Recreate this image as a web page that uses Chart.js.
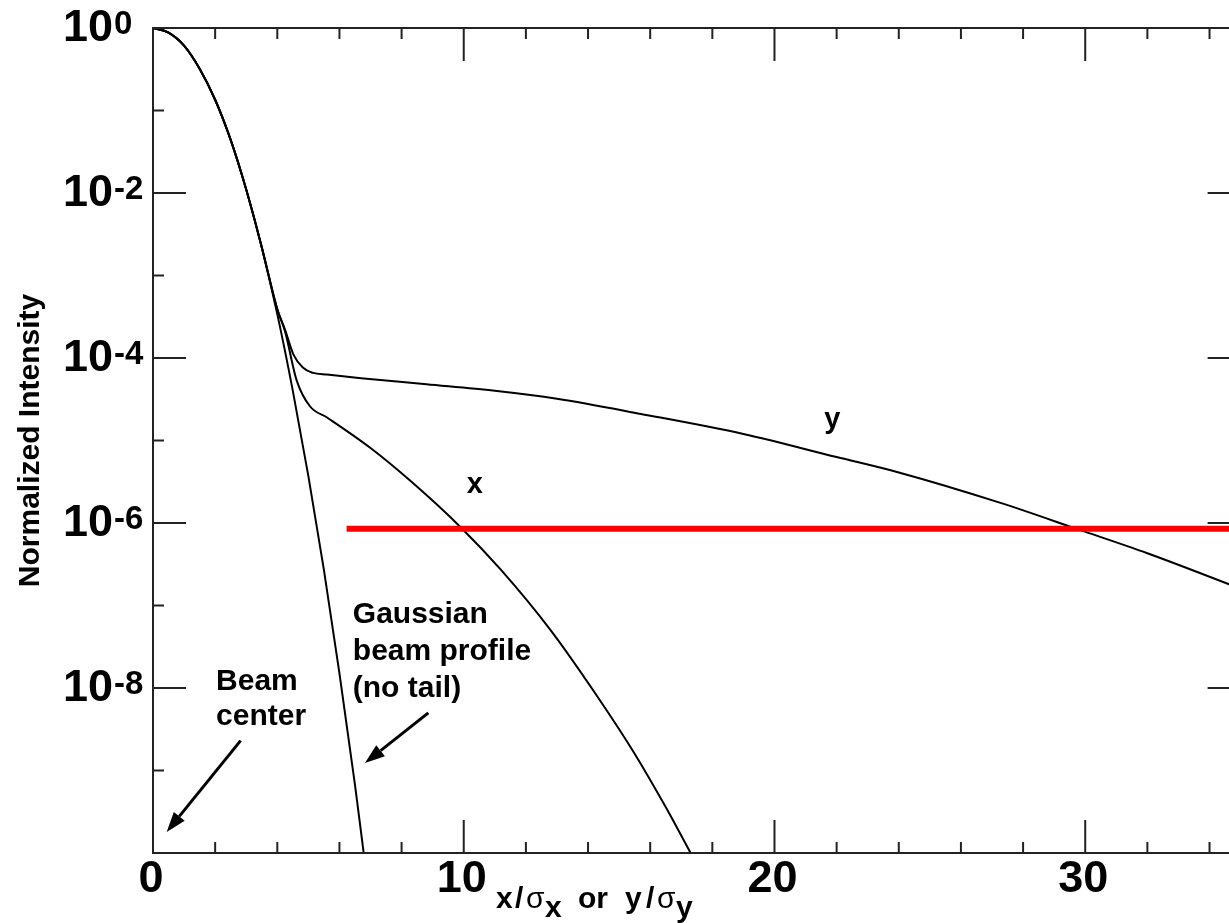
<!DOCTYPE html>
<html>
<head>
<meta charset="utf-8">
<script src="https://cdn.jsdelivr.net/npm/chart.js@4/dist/chart.umd.min.js"></script>
<style>
  html, body { margin: 0; padding: 0; background: #fff; overflow: hidden; }
  #wrap { width: 1229px; height: 923px; overflow: hidden; }
</style>
</head>
<body>
<div id="wrap"><canvas id="tailChart" width="1262" height="923"></canvas></div>
<script>
// data (x in sigma units, y = normalized intensity)
const gaussX = [0, 0.5, 1, 1.5, 2, 2.5, 3, 3.5, 4, 4.5, 5, 5.5, 6, 6.5, 6.78];
const gaussY = [1, 0.88, 0.61, 0.32, 0.135, 0.044, 0.011, 2.2e-3, 3.4e-4, 4.0e-5, 3.7e-6, 2.7e-7, 1.5e-8, 6.7e-10, 1e-10];

const xTailX = [0, 0.5, 1, 1.5, 2, 2.5, 3, 3.5, 4, 4.25, 4.62, 5.05, 5.6, 7, 8.3, 9.9, 11.2, 12.8, 14.3, 15.5, 16.5, 17.3];
const xTailY = [1, 0.88, 0.61, 0.32, 0.135, 0.044, 0.011, 2.2e-3, 3.9e-4, 2.1e-4, 5.4e-5, 2.6e-5, 1.9e-5, 8.1e-6, 3.2e-6, 8.9e-7, 2.7e-7, 5.0e-8, 7.9e-9, 1.6e-9, 3.6e-10, 1e-10];

const yTailX = [0, 0.5, 1, 1.5, 2, 2.5, 3, 3.5, 4, 4.25, 4.52, 4.83, 5.15, 5.6, 6.7, 8.8, 11, 13, 15.7, 19, 22, 24, 27.3, 29.8, 32, 35];
const yTailY = [1, 0.88, 0.61, 0.32, 0.135, 0.044, 0.011, 2.2e-3, 3.9e-4, 2.2e-4, 1.1e-4, 7.6e-5, 6.6e-5, 6.3e-5, 5.7e-5, 4.8e-5, 4.0e-5, 3.2e-5, 2.1e-5, 1.2e-5, 6.3e-6, 4.1e-6, 1.74e-6, 8.3e-7, 4.3e-7, 1.6e-7];

const limitX = [6.23, 35];
const limitY = [8.5e-7, 8.5e-7];

const xTickValues = [0, 10, 20, 30];
const xTickLabels = ["0", "10", "20", "30"];
const yTickValues = [1, 1e-2, 1e-4, 1e-6, 1e-8];
const yTickExps = ["0", "-2", "-4", "-6", "-8"];

const FONT = "'Liberation Sans', Arial, Helvetica, sans-serif";

function pts(xs, ys) {
  return xs.map((x, i) => ({ x: x, y: ys[i] }));
}

// arrow helper
function arrow(ctx, x1, y1, x2, y2) {
  const ang = Math.atan2(y2 - y1, x2 - x1);
  const len = 20, half = 7;
  const bx = x2 - len * Math.cos(ang), by = y2 - len * Math.sin(ang);
  ctx.beginPath();
  ctx.moveTo(x1, y1);
  ctx.lineTo(bx, by);
  ctx.stroke();
  ctx.beginPath();
  ctx.moveTo(x2, y2);
  ctx.lineTo(bx + half * Math.sin(ang), by - half * Math.cos(ang));
  ctx.lineTo(bx - half * Math.sin(ang), by + half * Math.cos(ang));
  ctx.closePath();
  ctx.fill();
}

// frame, inward ticks, labels and notes
const framePlugin = {
  id: "frame",
  afterDatasetsDraw(chart) {
    const { ctx, chartArea: a, scales: { x, y } } = chart;
    ctx.save();
    ctx.strokeStyle = "#222";
    ctx.lineWidth = 2;
    ctx.strokeRect(a.left, a.top, a.right - a.left, a.bottom - a.top);

    // x ticks every 2, long ones at every 10
    for (let v = 0; v <= 35; v += 2) {
      const px = x.getPixelForValue(v);
      const l = v % 10 === 0 ? 33 : 11;
      ctx.beginPath();
      ctx.moveTo(px, a.bottom); ctx.lineTo(px, a.bottom - l);
      ctx.moveTo(px, a.top); ctx.lineTo(px, a.top + l);
      ctx.stroke();
    }
    // y ticks at each decade, long ones at even decades
    for (let e = 0; e <= 10; e++) {
      const py = y.getPixelForValue(Math.pow(10, -e));
      const l = e % 2 === 0 ? 33 : 11;
      ctx.beginPath();
      ctx.moveTo(a.left, py); ctx.lineTo(a.left + l, py);
      ctx.moveTo(a.right, py); ctx.lineTo(a.right - l, py);
      ctx.stroke();
    }

    ctx.fillStyle = "#000";
    // x tick labels
    ctx.font = "bold 45px " + FONT;
    ctx.textAlign = "center";
    ctx.textBaseline = "middle";
    xTickValues.forEach((v, i) => {
      ctx.fillText(xTickLabels[i], x.getPixelForValue(v) - 2, a.bottom + 27);
    });

    // y tick labels: 10 with raised exponent
    yTickValues.forEach((v, i) => {
      const py = y.getPixelForValue(v);
      const lx = a.left - 90;
      ctx.font = "bold 45px " + FONT;
      ctx.textAlign = "left";
      ctx.textBaseline = "middle";
      ctx.fillText("10", lx, py + 1);
      const w = ctx.measureText("10").width;
      ctx.font = "bold 33px " + FONT;
      ctx.textBaseline = "alphabetic";
      ctx.fillText(yTickExps[i], lx + w + 1, py + 6);
    });

    // y axis title
    ctx.save();
    ctx.translate(39, (a.top + a.bottom) / 2);
    ctx.rotate(-Math.PI / 2);
    ctx.font = "bold 30px " + FONT;
    ctx.textAlign = "center";
    ctx.textBaseline = "alphabetic";
    ctx.fillText("Normalized Intensity", 0, 0);
    ctx.restore();

    // x axis title: x/σx or y/σy with subscripts
    const parts = [
      ["x", "bold", 0, 0], ["/", "bold", 0, 19], ["σ", "normal", 0, 30], ["x", "bold", 9, 49],
      ["or", "bold", 0, 82], ["y", "bold", 0, 129], ["/", "bold", 0, 150], ["σ", "normal", 0, 161], ["y", "bold", 9, 180]
    ];
    ctx.textAlign = "left";
    ctx.textBaseline = "alphabetic";
    parts.forEach(p => {
      ctx.font = p[1] + " 30px " + FONT;
      ctx.fillText(p[0], 496 + p[3], 908 + p[2]);
    });

    // curve labels and notes, placed in data coordinates
    ctx.font = "bold 29px " + FONT;
    ctx.fillText("y", x.getPixelForValue(21.6), y.getPixelForValue(1.4e-5));
    ctx.fillText("x", x.getPixelForValue(10.1), y.getPixelForValue(2.3e-6));

    ctx.font = "bold 30px " + FONT;
    const gx = x.getPixelForValue(6.43), gy = y.getPixelForValue(6.2e-8);
    ["Gaussian", "beam profile", "(no tail)"].forEach((t, i) => ctx.fillText(t, gx, gy + i * 37));

    const bx = x.getPixelForValue(2.03), by = y.getPixelForValue(9.5e-9);
    ["Beam", "center"].forEach((t, i) => ctx.fillText(t, bx, by + i * 35));

    ctx.lineWidth = 3;
    ctx.strokeStyle = "#000";
    arrow(ctx, x.getPixelForValue(2.82), y.getPixelForValue(2.3e-9), x.getPixelForValue(0.44), y.getPixelForValue(1.8e-10));
    arrow(ctx, x.getPixelForValue(8.86), y.getPixelForValue(5.0e-9), x.getPixelForValue(6.82), y.getPixelForValue(1.23e-9));
    ctx.restore();
  }
};

const lineStyle = {
  borderColor: "#000",
  borderWidth: 2,
  pointRadius: 0,
  cubicInterpolationMode: "monotone",
  fill: false,
  order: 1
};

new Chart(document.getElementById("tailChart"), {
  type: "line",
  data: {
    datasets: [
      { label: "limit", data: pts(limitX, limitY), borderColor: "#ff0000", borderWidth: 6, pointRadius: 0, order: 0 },
      Object.assign({ label: "Gaussian", data: pts(gaussX, gaussY) }, lineStyle),
      Object.assign({ label: "x", data: pts(xTailX, xTailY) }, lineStyle),
      Object.assign({ label: "y", data: pts(yTailX, yTailY) }, lineStyle)
    ]
  },
  options: {
    responsive: false,
    animation: false,
    devicePixelRatio: 1,
    layout: { padding: { left: 153, top: 28, right: 21.4, bottom: 70 } },
    plugins: { legend: { display: false }, tooltip: { enabled: false } },
    scales: {
      x: { type: "linear", min: 0, max: 35, display: false },
      y: { type: "logarithmic", min: 1e-10, max: 1, display: false }
    }
  },
  plugins: [framePlugin]
});
</script>
</body>
</html>
